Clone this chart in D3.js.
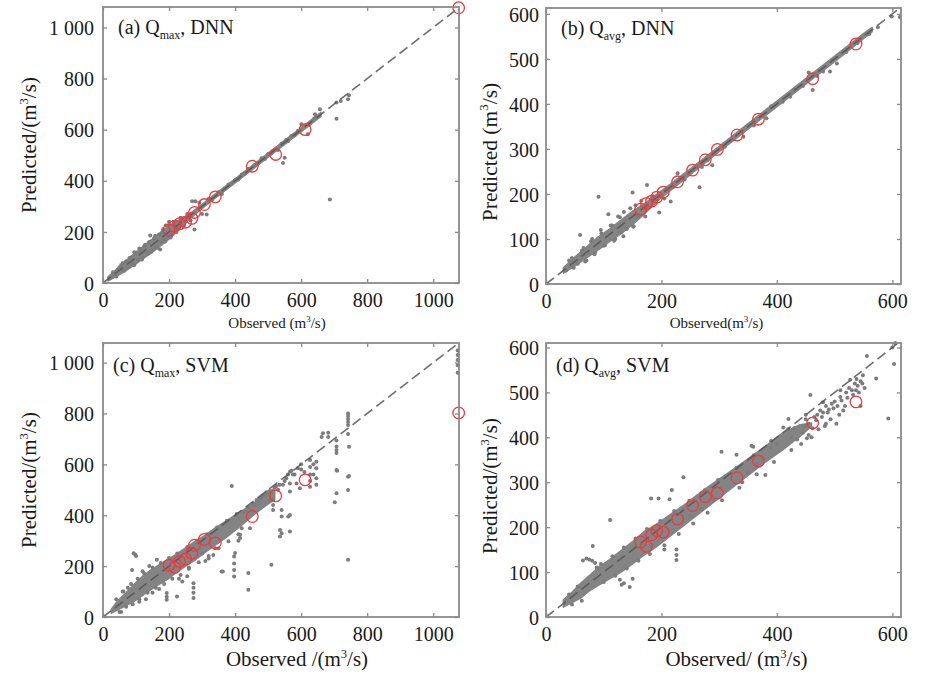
<!DOCTYPE html>
<html><head><meta charset="utf-8">
<script src="https://cdn.jsdelivr.net/npm/d3@7"></script>
<style>
body{margin:0;background:#fff}
svg{display:block}
text{font-family:"Liberation Serif","Times New Roman",serif;fill:#1a1a1a}
</style>
</head><body>
<svg id="chart" width="941" height="683"></svg>
<script>
// ---------- tick labels ----------
const xTicksQmax = [0, 200, 400, 600, 800, 1000];
const yTicksQmax = [0, 200, 400, 600, 800, 1000];
const xTicksQavg = [0, 200, 400, 600];
const yTicksQavg = [0, 100, 200, 300, 400, 500, 600];

// ---------- dense clouds (observed, lower / upper predicted) ----------
const aBandX  = [15, 30, 45, 60, 75, 90, 105, 120, 135, 150, 165, 180, 195, 210, 225, 240, 260, 280, 320, 380, 440, 500, 560, 620, 660];
const aBandLo = [8, 18, 29, 41, 53, 66, 80, 94, 107, 121, 136, 151, 167, 184, 202, 224, 247, 270, 312, 372, 432, 492, 552, 612, 652];
const aBandHi = [24, 41, 59, 76, 93, 110, 126, 142, 158, 173, 188, 203, 218, 232, 243, 253, 268, 288, 328, 388, 448, 508, 568, 628, 668];

const bBandX  = [30, 50, 70, 90, 110, 130, 150, 170, 200, 250, 300, 350, 400, 450, 500, 550, 565];
const bBandLo = [24, 40, 58, 75, 94, 112, 132, 155, 192, 243, 294, 344, 394, 444, 494, 545, 560];
const bBandHi = [36, 60, 82, 104, 122, 142, 162, 178, 207, 256, 306, 356, 406, 456, 506, 556, 570];

const cBandX  = [25, 45, 70, 95, 120, 145, 170, 195, 220, 250, 280, 310, 340, 370, 400, 430, 460, 490, 520];
const cBandLo = [15, 28, 45, 62, 85, 108, 128, 148, 172, 200, 225, 255, 282, 310, 340, 372, 405, 435, 462];
const cBandHi = [30, 65, 95, 130, 160, 185, 205, 225, 245, 272, 298, 322, 350, 375, 400, 425, 452, 480, 508];

const dBandX  = [30, 45, 60, 75, 90, 110, 130, 150, 170, 190, 215, 240, 265, 290, 320, 350, 380, 410, 440, 460];
const dBandLo = [22, 32, 42, 58, 70, 85, 100, 118, 138, 155, 180, 205, 230, 255, 285, 315, 345, 372, 402, 425];
const dBandHi = [38, 55, 75, 92, 110, 128, 148, 168, 190, 205, 228, 250, 275, 298, 325, 352, 380, 410, 428, 432];

// ---------- scattered samples [observed, predicted] ----------
const aPoints = [[20,18],[35,30],[45,52],[55,70],[60,78],[60,50],[70,85],[75,62],[85,100],[90,75],[95,120],[100,118],[105,90],[115,130],[120,100],[125,145],[135,115],[140,160],[143,186],[150,130],[155,175],[160,140],[170,190],[173,131],[175,160],[180,200],[185,170],[190,225],[195,180],[200,240],[205,185],[210,200],[215,230],[225,215],[240,250],[250,240],[262,262],[270,320],[280,320],[292,314],[300,270],[314,268],[320,330],[277,209],[330,325],[350,355],[360,348],[370,372],[380,385],[390,388],[400,402],[410,405],[420,425],[430,428],[440,446],[460,462],[470,468],[480,488],[490,485],[500,505],[510,508],[530,520],[541,546],[545,470],[550,490],[555,560],[560,555],[570,575],[580,578],[590,595],[601,621],[620,582],[625,620],[640,645],[657,680],[642,660],[687,327],[707,706],[707,643],[742,719],[745,735],[720,712],
  [30,42],[40,25],[50,62],[65,48],[80,98],[95,70],[110,135],[118,92],[128,150],[145,120],[158,185],[165,138],[182,210],[188,162],[198,226],[205,178],[215,238],[222,200],[235,255],[245,225],[255,270],[265,245]];

const bPoints = [[35,30],[45,58],[55,45],[59,109],[65,80],[70,52],[80,100],[85,70],[91,194],[95,120],[100,85],[108,155],[115,130],[120,100],[125,150],[130,115],[135,160],[140,122],[150,203],[151,127],[155,175],[160,150],[175,220],[185,195],[196,159],[205,190],[216,183],[220,215],[228,246],[240,232],[266,215],[270,260],[280,275],[288,264],[310,305],[320,318],[342,327],[360,352],[382,368],[390,395],[410,405],[423,416],[430,432],[445,440],[455,470],[462,431],[470,462],[480,472],[492,472],[504,490],[520,515],[540,535],[560,555],[575,570],[599,594],[613,593],
  [40,52],[48,36],[62,74],[68,50],[78,95],[84,66],[96,112],[102,86],[112,130],[118,96],[128,148],[134,106],[146,168],[152,128],[165,185],[172,150]];

const cPoints = [[93,251],[98,245],[88,185],[100,240],[163,225],[140,200],[120,180],[60,100],[75,115],[55,20],[110,60],[130,70],[150,95],[170,110],[193,94],[193,80],[193,68],[224,81],[230,150],[240,140],[255,160],[274,133],[274,115],[274,95],[274,75],[260,195],[300,250],[310,220],[320,230],[334,244],[340,270],[359,179],[363,179],[390,515],[397,238],[397,210],[397,185],[397,159],[400,252],[410,300],[415,323],[415,311],[420,349],[440,173],[440,107],[445,349],[430,415],[440,430],[450,420],[455,445],[460,440],[465,460],[470,455],[475,465],[480,470],[485,478],[490,480],[495,490],[500,490],[505,460],[505,495],[510,205],[515,460],[515,440],[515,421],[520,510],[525,515],[530,500],[535,520],[536,342],[536,316],[541,421],[541,395],[541,329],[545,520],[550,535],[555,545],[560,560],[561,395],[566,571],[566,525],[566,493],[566,401],[566,336],[570,575],[575,560],[580,560],[586,525],[590,585],[596,506],[600,580],[600,600],[610,570],[627,617],[627,590],[627,560],[627,535],[627,512],[637,600],[637,560],[646,610],[646,585],[646,545],[646,520],[662,708],[666,722],[682,724],[682,708],[702,451],[707,694],[707,670],[707,656],[707,645],[707,578],[707,486],[709,575],[742,800],[742,790],[742,778],[742,766],[742,755],[742,719],[742,551],[742,499],[742,225],[745,669],[745,554],[1074,1048],[1074,1030],[1074,1010],[1074,990],[1074,960],
  [40,70],[50,20],[62,100],[70,40],[85,130],[90,50],[105,150],[110,70],[125,170],[135,95],[150,195],[160,115],[175,212],[185,130],[200,232],[210,150],[225,250],[235,165],[255,275],[260,190],[285,300],[290,215],[315,325],[320,240],[345,352],[350,270],[375,378],[380,298],[405,405],[410,325]];

const dPoints = [[64,126],[70,130],[75,128],[80,125],[85,120],[88,110],[81,158],[111,216],[128,83],[135,75],[131,72],[145,67],[150,85],[182,264],[195,264],[214,262],[218,283],[238,311],[226,150],[226,138],[226,127],[205,150],[250,225],[270,240],[290,260],[304,368],[330,361],[356,381],[380,316],[359,379],[340,300],[350,320],[365,340],[375,350],[390,378],[400,385],[411,422],[420,441],[425,400],[430,420],[445,410],[450,440],[455,430],[458,494],[460,400],[465,445],[470,450],[475,460],[480,455],[485,470],[490,462],[495,475],[500,480],[503,430],[510,490],[520,500],[527,528],[530,505],[535,520],[540,515],[545,470],[549,538],[556,581],[572,531],[593,442],[600,600],[603,563],[605,610],
  [40,50],[45,28],[55,68],[62,36],[95,118],[100,78],[115,135],[120,92],[135,155],[140,108],[155,175],[160,125],[175,196],[180,140],[198,214],[205,160],[222,236],[230,185],[248,258],[255,208],[275,282],[280,232],[298,305],[305,260],[330,332],[335,288],[360,360],[365,318],[390,392],[395,345],[420,418],[425,372],[450,450],[455,405],[480,478],[485,430],[510,505],[515,460],
  [435,395],[442,385],[448,425],[452,398],[462,420],[468,438],[472,418],[478,445],[483,425],[488,455],[493,440],[498,465],[505,470],[508,450],[512,482],[518,470],[522,488],[525,510],[532,495],[537,505],[542,500],[548,520],[552,510],[545,525],[538,530]];

// ---------- highlighted events (red circles) ----------
const qmaxRedObs = [200, 217, 232, 250, 269, 277, 307, 340, 452, 523, 612, 1077];
const aRedPred   = [208, 222, 232, 238, 253, 276, 307, 337, 457, 503, 600, 1077];
const cRedPred   = [204, 195, 218, 228, 250, 282, 305, 291, 395, 476, 539, 802];
const qavgRedObs = [164, 174, 183, 192, 203, 228, 254, 276, 297, 331, 368, 462, 537];
const bRedPred   = [166, 179, 184, 193, 204, 227, 253, 276, 299, 331, 366, 456, 533];
const dRedPred   = [167, 157, 183, 192, 189, 218, 248, 268, 276, 310, 347, 432, 479];

// ---------- panel layout ----------
const panels = [
  {box:[103,459,7,283], dom:[1078,1080], xt:xTicksQmax, yt:yTicksQmax,
   bx:aBandX, blo:aBandLo, bhi:aBandHi, pts:aPoints, rx:qmaxRedObs, ry:aRedPred,
   lab:["(a) Q","max",", DNN"], labPos:[118,34],
   yTitle:"Predicted/(m", yTitleX:36, yOff:0, yFs:21, ytGap:9,
   xTitle:"Observed (m", xTitleY:328, xOff:-4, xFs:15},
  {box:[546,901,8,284], dom:[615,613], xt:xTicksQavg, yt:yTicksQavg,
   bx:bBandX, blo:bBandLo, bhi:bBandHi, pts:bPoints, rx:qavgRedObs, ry:bRedPred,
   lab:["(b) Q","avg",", DNN"], labPos:[561,35],
   yTitle:"Predicted (m", yTitleX:497, yOff:6, yFs:21.5, ytGap:7,
   xTitle:"Observed(m", xTitleY:328, xOff:-7, xFs:15},
  {box:[103,459,343,617], dom:[1078,1077], xt:xTicksQmax, yt:yTicksQmax,
   bx:cBandX, blo:cBandLo, bhi:cBandHi, pts:cPoints, rx:qmaxRedObs, ry:cRedPred,
   lab:["(c) Q","max",", SVM"], labPos:[113,372],
   yTitle:"Predicted/(m", yTitleX:36, yOff:0, yFs:21, ytGap:9,
   xTitle:"Observed /(m", xTitleY:666, xOff:16, xFs:21},
  {box:[546,901,343,617], dom:[615,610], xt:xTicksQavg, yt:yTicksQavg,
   bx:dBandX, blo:dBandLo, bhi:dBandHi, pts:dPoints, rx:qavgRedObs, ry:dRedPred,
   lab:["(d) Q","avg",", SVM"], labPos:[556,372],
   yTitle:"Predicted/(m", yTitleX:497, yOff:6, yFs:21, ytGap:7,
   xTitle:"Observed/ (m", xTitleY:666, xOff:13, xFs:21}
];

const svg = d3.select("#chart");
const frameCol = "#8a8a8a";

function supTitle(g, pre, fs) {
  g.append("tspan").text(pre);
  g.append("tspan").text("3").attr("font-size", fs*0.6).attr("dy", -fs*0.4);
  g.append("tspan").text("/s)").attr("font-size", fs).attr("dy", fs*0.4);
}

panels.forEach(p => {
  const [L,R,T,B] = p.box;
  const x = d3.scaleLinear().domain([0,p.dom[0]]).range([L,R]);
  const y = d3.scaleLinear().domain([0,p.dom[1]]).range([B,T]);
  const g = svg.append("g");

  // cloud band
  const band = p.bx.map((v,i)=>({x:v, lo:p.blo[i], hi:p.bhi[i]}));
  g.append("path").datum(band)
    .attr("d", d3.area().x(d=>x(d.x)).y0(d=>y(d.lo)).y1(d=>y(d.hi)).curve(d3.curveLinear))
    .attr("fill","#848484").attr("stroke","#848484").attr("stroke-width",1.5).attr("stroke-linejoin","round");

  // scatter points
  g.selectAll("circle.pt").data(p.pts).join("circle")
    .attr("class","pt").attr("cx",d=>x(d[0])).attr("cy",d=>y(d[1])).attr("r",2)
    .attr("fill","#7c7c7c");

  // 1:1 line
  const m = Math.min(p.dom[0], p.dom[1]);
  g.append("line").attr("x1",x(0)).attr("y1",y(0)).attr("x2",x(m)).attr("y2",y(m))
    .attr("stroke","#555").attr("stroke-width",1.6).attr("stroke-dasharray","10,5").attr("opacity",0.85);

  // red circles
  g.selectAll("circle.red").data(p.rx.map((v,i)=>[v,p.ry[i]])).join("circle")
    .attr("class","red").attr("cx",d=>x(d[0])).attr("cy",d=>y(d[1])).attr("r",5.8)
    .attr("fill","none").attr("stroke","#ec3a3f").attr("stroke-width",1.3);

  // axes: ticks inward on all four sides
  const tl = 4;
  const axB = g.append("g").attr("transform",`translate(0,${B})`)
    .call(d3.axisBottom(x).tickValues(p.xt).tickSizeInner(-tl).tickSizeOuter(0).tickFormat(d=>String(d)));
  const axT = g.append("g").attr("transform",`translate(0,${T})`)
    .call(d3.axisTop(x).tickValues(p.xt).tickSizeInner(-tl).tickSizeOuter(0).tickFormat(""));
  const yFmt = d => d === 1000 ? "1 000" : String(d);
  const axL = g.append("g").attr("transform",`translate(${L},0)`)
    .call(d3.axisLeft(y).tickValues(p.yt).tickSizeInner(-tl).tickSizeOuter(0).tickPadding(p.ytGap).tickFormat(yFmt));
  const axR = g.append("g").attr("transform",`translate(${R},0)`)
    .call(d3.axisRight(y).tickValues(p.yt).tickSizeInner(-tl).tickSizeOuter(0).tickFormat(""));
  [axB,axT,axL,axR].forEach(a => {
    a.select(".domain").remove();
    a.selectAll("line").attr("stroke",frameCol).attr("stroke-width",1.3);
    a.selectAll("text").attr("font-size",20).attr("fill","#1a1a1a")
      .style("font-family",'"Liberation Serif","Times New Roman",serif');
  });
  axB.selectAll("text").attr("dy",null).attr("y",24);
  axL.selectAll("text").attr("dy","0.36em");

  // frame
  g.append("rect").attr("x",L).attr("y",T).attr("width",R-L).attr("height",B-T)
    .attr("fill","none").attr("stroke",frameCol).attr("stroke-width",1.8);

  // panel label
  const lt = g.append("text").attr("x",p.labPos[0]).attr("y",p.labPos[1]).attr("font-size",20);
  lt.append("tspan").text(p.lab[0]);
  lt.append("tspan").text(p.lab[1]).attr("font-size",12).attr("dy",5);
  lt.append("tspan").text(p.lab[2]).attr("font-size",20).attr("dy",-5);

  // y title
  const yt = g.append("text").attr("text-anchor","middle").attr("font-size",p.yFs)
    .attr("transform",`translate(${p.yTitleX},${(T+B)/2 + p.yOff}) rotate(-90)`);
  supTitle(yt, p.yTitle, p.yFs);

  // x title
  const xtt = g.append("text").attr("text-anchor","middle").attr("font-size",p.xFs)
    .attr("x",(L+R)/2 + p.xOff).attr("y",p.xTitleY);
  supTitle(xtt, p.xTitle, p.xFs);
});
</script>
</body></html>
